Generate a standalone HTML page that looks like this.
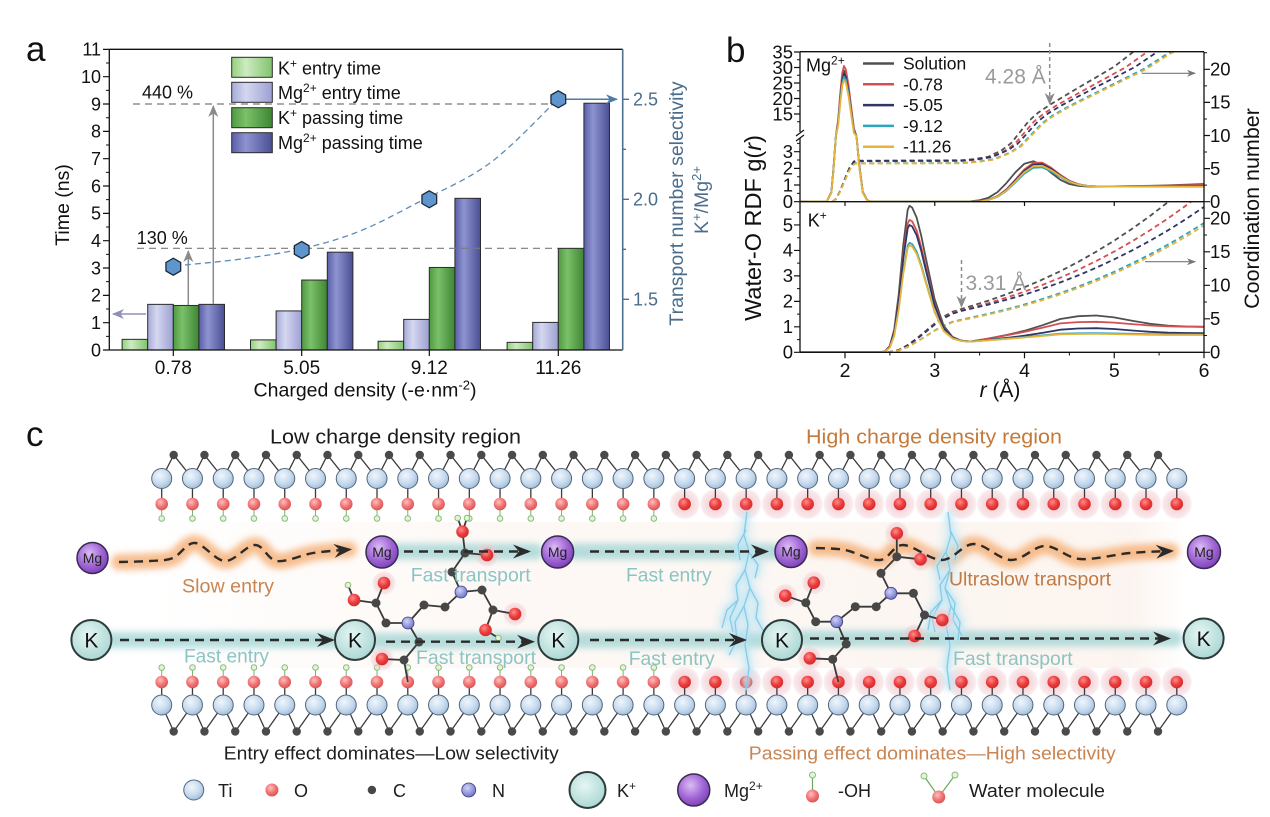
<!DOCTYPE html>
<html><head><meta charset="utf-8">
<style>
html,body{margin:0;padding:0;background:#fff}
svg{display:block;font-family:"Liberation Sans",Arial,sans-serif}
</style></head><body>
<svg xmlns="http://www.w3.org/2000/svg" width="1270" height="817" viewBox="0 0 1270 817">
<defs>
 <linearGradient id="gKE" x1="0" y1="0" x2="1" y2="0"><stop offset="0" stop-color="#93d07f"/><stop offset="0.35" stop-color="#cdebc0"/><stop offset="1" stop-color="#82c36d"/></linearGradient>
 <linearGradient id="gME" x1="0" y1="0" x2="1" y2="0"><stop offset="0" stop-color="#a6aad8"/><stop offset="0.35" stop-color="#d4d7ef"/><stop offset="1" stop-color="#9ca0d2"/></linearGradient>
 <linearGradient id="gKP" x1="0" y1="0" x2="1" y2="0"><stop offset="0" stop-color="#4e9b40"/><stop offset="0.35" stop-color="#7cc06a"/><stop offset="1" stop-color="#3e8633"/></linearGradient>
 <linearGradient id="gMP" x1="0" y1="0" x2="1" y2="0"><stop offset="0" stop-color="#5a5fa8"/><stop offset="0.35" stop-color="#8e93d0"/><stop offset="1" stop-color="#4a4f95"/></linearGradient>
 <radialGradient id="gTi" cx="0.4" cy="0.35" r="0.7"><stop offset="0" stop-color="#f0f6fc"/><stop offset="0.6" stop-color="#c6daee"/><stop offset="1" stop-color="#9dbad7"/></radialGradient>
 <radialGradient id="gO" cx="0.4" cy="0.35" r="0.7"><stop offset="0" stop-color="#ffc0c0"/><stop offset="0.55" stop-color="#f07474"/><stop offset="1" stop-color="#d85050"/></radialGradient>
 <radialGradient id="gO2" cx="0.4" cy="0.35" r="0.7"><stop offset="0" stop-color="#ff8c8c"/><stop offset="0.55" stop-color="#ec3c3c"/><stop offset="1" stop-color="#cc2a2a"/></radialGradient>
 <radialGradient id="gHalo" cx="0.5" cy="0.5" r="0.5"><stop offset="0" stop-color="#ea98a6" stop-opacity="0.5"/><stop offset="0.55" stop-color="#eeb8c0" stop-opacity="0.5"/><stop offset="0.88" stop-color="#f1cfd5" stop-opacity="0.45"/><stop offset="1" stop-color="#f3d8dc" stop-opacity="0.08"/></radialGradient>
 <radialGradient id="gK" cx="0.42" cy="0.38" r="0.7"><stop offset="0" stop-color="#e6f6f4"/><stop offset="1" stop-color="#a5d4d0"/></radialGradient>
 <radialGradient id="gMg" cx="0.4" cy="0.35" r="0.7"><stop offset="0" stop-color="#dcbcf4"/><stop offset="0.6" stop-color="#9e63d4"/><stop offset="1" stop-color="#7a3fb2"/></radialGradient>
 <radialGradient id="gN" cx="0.4" cy="0.35" r="0.7"><stop offset="0" stop-color="#d0d3f7"/><stop offset="1" stop-color="#6a70c6"/></radialGradient>
 <linearGradient id="gBg" x1="0" y1="0" x2="1" y2="0"><stop offset="0" stop-color="#fbf1ea" stop-opacity="0"/><stop offset="0.3" stop-color="#fbf1ea" stop-opacity="0.45"/><stop offset="0.95" stop-color="#fbf0e9" stop-opacity="0.7"/><stop offset="1" stop-color="#fbf0e9" stop-opacity="0"/></linearGradient>
 <filter id="blur3" filterUnits="userSpaceOnUse" x="0" y="0" width="1270" height="817"><feGaussianBlur stdDeviation="3.5"/></filter>
 <filter id="blur2" filterUnits="userSpaceOnUse" x="0" y="0" width="1270" height="817"><feGaussianBlur stdDeviation="2"/></filter>
 <filter id="blur5" filterUnits="userSpaceOnUse" x="0" y="0" width="1270" height="817"><feGaussianBlur stdDeviation="5"/></filter>
 <clipPath id="cpU"><rect x="800" y="51.7" width="404" height="150"/></clipPath>
 <clipPath id="cpL"><rect x="800" y="201.7" width="404" height="150.6"/></clipPath>
 <marker id="mG" markerUnits="userSpaceOnUse" markerWidth="12" markerHeight="10" refX="11" refY="5" orient="auto"><path d="M0,0 L12,5 L0,10 L3.5,5 Z" fill="#8a8a8a"/></marker>
 <marker id="mP" markerUnits="userSpaceOnUse" markerWidth="12" markerHeight="10" refX="11" refY="5" orient="auto"><path d="M0,0 L12,5 L0,10 L3.5,5 Z" fill="#8f8fb8"/></marker>
 <marker id="mB" markerUnits="userSpaceOnUse" markerWidth="12" markerHeight="10" refX="11" refY="5" orient="auto"><path d="M0,0 L12,5 L0,10 L3.5,5 Z" fill="#4e7ca8"/></marker>
 <marker id="mSm" markerUnits="userSpaceOnUse" markerWidth="9" markerHeight="7" refX="8" refY="3.5" orient="auto"><path d="M0,0 L9,3.5 L0,7 L2.5,3.5 Z" fill="#777"/></marker>
 <marker id="mA" markerUnits="userSpaceOnUse" markerWidth="18" markerHeight="14" refX="15" refY="7" orient="auto"><path d="M0,0 L18,7 L0,14 L6,7 Z" fill="#2b2b2b"/></marker>
 <polygon id="hex" points="0,-8.5 7.36,-4.25 7.36,4.25 0,8.5 -7.36,4.25 -7.36,-4.25" fill="#5d95cc" stroke="#1d2a3a" stroke-width="1.3"/>
 <g id="colTL">
  <polyline points="0,478.5 12,455 30.76,478.5" fill="none" stroke="#3a3a3a" stroke-width="1.3"/>
  <line x1="0" y1="478.5" x2="0" y2="504" stroke="#3a3a3a" stroke-width="1.3"/>
  <line x1="0" y1="504" x2="0" y2="518" stroke="#7ab06e" stroke-width="1"/>
  <circle cx="0" cy="518.5" r="2.8" fill="#e6f2dc" stroke="#86bf78" stroke-width="1"/>
  <circle cx="0" cy="504" r="6.3" fill="url(#gO)"/>
  <circle cx="0" cy="478.5" r="10" fill="url(#gTi)" stroke="#55657a" stroke-width="1"/>
  <circle cx="12" cy="455" r="4.2" fill="#4a4a4a"/>
 </g>
 <g id="colTH">
  <circle cx="0" cy="504" r="15.5" fill="url(#gHalo)"/>
  <polyline points="0,478.5 12,455 30.76,478.5" fill="none" stroke="#3a3a3a" stroke-width="1.3"/>
  <line x1="0" y1="478.5" x2="0" y2="504" stroke="#3a3a3a" stroke-width="1.3"/>
  <circle cx="0" cy="504" r="6.3" fill="url(#gO2)"/>
  <circle cx="0" cy="478.5" r="10" fill="url(#gTi)" stroke="#55657a" stroke-width="1"/>
  <circle cx="12" cy="455" r="4.2" fill="#4a4a4a"/>
 </g>
 <g id="colTHe">
  <circle cx="0" cy="504" r="15.5" fill="url(#gHalo)"/>
  <line x1="0" y1="478.5" x2="0" y2="504" stroke="#3a3a3a" stroke-width="1.3"/>
  <circle cx="0" cy="504" r="6.3" fill="url(#gO2)"/>
  <circle cx="0" cy="478.5" r="10" fill="url(#gTi)" stroke="#55657a" stroke-width="1"/>
 </g>
 <g id="colBL">
  <polyline points="0,705 12,731.5 30.76,705" fill="none" stroke="#3a3a3a" stroke-width="1.3"/>
  <line x1="0" y1="705" x2="0" y2="682" stroke="#3a3a3a" stroke-width="1.3"/>
  <line x1="0" y1="682" x2="0" y2="668" stroke="#7ab06e" stroke-width="1"/>
  <circle cx="0" cy="667.5" r="2.8" fill="#e6f2dc" stroke="#86bf78" stroke-width="1"/>
  <circle cx="0" cy="682" r="6.3" fill="url(#gO)"/>
  <circle cx="0" cy="705" r="10" fill="url(#gTi)" stroke="#55657a" stroke-width="1"/>
  <circle cx="12" cy="731.5" r="4.2" fill="#4a4a4a"/>
 </g>
 <g id="colBH">
  <circle cx="0" cy="682" r="15.5" fill="url(#gHalo)"/>
  <polyline points="0,705 12,731.5 30.76,705" fill="none" stroke="#3a3a3a" stroke-width="1.3"/>
  <line x1="0" y1="705" x2="0" y2="682" stroke="#3a3a3a" stroke-width="1.3"/>
  <circle cx="0" cy="682" r="6.3" fill="url(#gO2)"/>
  <circle cx="0" cy="705" r="10" fill="url(#gTi)" stroke="#55657a" stroke-width="1"/>
  <circle cx="12" cy="731.5" r="4.2" fill="#4a4a4a"/>
 </g>
 <g id="colBHe">
  <circle cx="0" cy="682" r="15.5" fill="url(#gHalo)"/>
  <line x1="0" y1="705" x2="0" y2="682" stroke="#3a3a3a" stroke-width="1.3"/>
  <circle cx="0" cy="682" r="6.3" fill="url(#gO2)"/>
  <circle cx="0" cy="705" r="10" fill="url(#gTi)" stroke="#55657a" stroke-width="1"/>
 </g>
 <g id="bolts">
  <polyline points="747,512 744,535 749,552 745,570 750,588 744,606 748,625 745,645 749,668 746,690"/>
  <polyline points="745,570 736,585 738,600 730,618 733,632"/><polyline points="750,588 758,603 756,618 764,632"/><polyline points="744,606 735,622 737,640 729,655"/>
  <polyline points="749,552 758,565 755,578"/><polyline points="746,530 738,545 740,560"/><polyline points="738,600 727,610 722,628"/>
  <polyline points="948,512 951,535 946,552 950,570 945,588 951,606 946,625 950,645 947,668 950,690"/>
  <polyline points="950,570 940,585 942,600 932,618 935,632"/><polyline points="945,588 955,603 953,620 962,636"/><polyline points="951,606 960,622 958,640"/>
  <polyline points="946,552 937,566 940,580"/><polyline points="950,530 958,546 955,560"/><polyline points="942,600 931,612 928,630"/>
 </g>
</defs>
<rect width="1270" height="817" fill="#fff"/>

<!-- ================= PANEL A ================= -->
<g stroke="#2b2b2b" stroke-width="1">
 <rect x="122.1" y="339.34" width="25.6" height="10.66" fill="url(#gKE)"/>
 <rect x="147.7" y="304.36" width="25.6" height="45.64" fill="url(#gME)"/>
 <rect x="173.3" y="305.45" width="25.6" height="44.55" fill="url(#gKP)"/>
 <rect x="198.9" y="304.36" width="25.6" height="45.64" fill="url(#gMP)"/>
 <rect x="250.5" y="339.89" width="25.6" height="10.11" fill="url(#gKE)"/>
 <rect x="276.1" y="310.92" width="25.6" height="39.08" fill="url(#gME)"/>
 <rect x="301.7" y="280.04" width="25.6" height="69.96" fill="url(#gKP)"/>
 <rect x="327.3" y="252.16" width="25.6" height="97.84" fill="url(#gMP)"/>
 <rect x="378.1" y="341.25" width="25.6" height="8.75" fill="url(#gKE)"/>
 <rect x="403.7" y="319.39" width="25.6" height="30.61" fill="url(#gME)"/>
 <rect x="429.3" y="267.46" width="25.6" height="82.54" fill="url(#gKP)"/>
 <rect x="454.9" y="198.32" width="25.6" height="151.68" fill="url(#gMP)"/>
 <rect x="507.1" y="342.35" width="25.6" height="7.65" fill="url(#gKE)"/>
 <rect x="532.7" y="322.4" width="25.6" height="27.6" fill="url(#gME)"/>
 <rect x="558.3" y="248.33" width="25.6" height="101.67" fill="url(#gKP)"/>
 <rect x="583.9" y="103.21" width="25.6" height="246.79" fill="url(#gMP)"/>
 <rect x="231.7" y="57.3" width="40.6" height="20" fill="url(#gKE)"/>
 <rect x="231.7" y="82.3" width="40.6" height="20" fill="url(#gME)"/>
 <rect x="231.7" y="107.7" width="40.6" height="20" fill="url(#gKP)"/>
 <rect x="231.7" y="132.7" width="40.6" height="20" fill="url(#gMP)"/>
</g>
<path d="M109.3,49.3H622.7M109.3,49.3V350M109.3,350H622.7" stroke="#111" stroke-width="1.3" fill="none"/>
<line x1="622.7" y1="49.3" x2="622.7" y2="350" stroke="#4d7090" stroke-width="1.6"/>
<path d="M103,350H109.3M103,322.67H109.3M103,295.34H109.3M103,268.01H109.3M103,240.68H109.3M103,213.35H109.3M103,186.02H109.3M103,158.69H109.3M103,131.36H109.3M103,104.03H109.3M103,76.7H109.3M103,49.37H109.3M173.3,350V356M301.7,350V356M429.3,350V356M558.3,350V356" stroke="#111" stroke-width="1.2" fill="none"/>
<path d="M106,336.33H109.3M106,309H109.3M106,281.67H109.3M106,254.34H109.3M106,227.01H109.3M106,199.68H109.3M106,172.35H109.3M106,145.02H109.3M106,117.69H109.3M106,90.36H109.3M106,63.03H109.3" stroke="#111" stroke-width="1" fill="none"/>
<path d="M622.7,99.3H629M622.7,199.3H629M622.7,299.3H629M622.7,149.3H626M622.7,249.3H626" stroke="#4d7090" stroke-width="1.3" fill="none"/>
<line x1="133" y1="104" x2="555" y2="104" stroke="#7a7a7a" stroke-width="1.2" stroke-dasharray="7,5"/>
<line x1="137" y1="248.3" x2="558" y2="248.3" stroke="#7a7a7a" stroke-width="1.2" stroke-dasharray="7,5"/>
<line x1="188.3" y1="305" x2="188.3" y2="251" stroke="#8a8a8a" stroke-width="1.5" marker-end="url(#mG)"/>
<line x1="213.3" y1="304" x2="213.3" y2="106" stroke="#8a8a8a" stroke-width="1.5" marker-end="url(#mG)"/>
<line x1="146" y1="314" x2="113" y2="314" stroke="#8f8fb8" stroke-width="1.5" marker-end="url(#mP)"/>
<line x1="566" y1="99.3" x2="617" y2="99.3" stroke="#4e7ca8" stroke-width="1.5" marker-end="url(#mB)"/>
<path d="M185,265 C195,263.92 225,261.33 245,258.5 C265,255.67 285.83,252.58 305,248 C324.17,243.42 341.33,238.5 360,231 C378.67,223.5 395.33,214.33 417,203 C438.67,191.67 466.5,180.33 490,163 C513.5,145.67 546.67,109.67 558,99" fill="none" stroke="#5b8cba" stroke-width="1.3" stroke-dasharray="6,4"/>
<use href="#hex" x="173.3" y="266.7"/>
<use href="#hex" x="301.7" y="250"/>
<use href="#hex" x="429.3" y="199.3"/>
<use href="#hex" x="558.3" y="99.3"/>

<!-- ================= PANEL B ================= -->
<g clip-path="url(#cpU)" fill="none">
 <g stroke-width="1.8" stroke-dasharray="5,3.5">
  <path stroke="#505050" d="M832.3,201.7 L835.9,199.1 L840.4,190.4 L844.9,178.8 L849.4,168 L853.9,161.4 L855.6,160.7 L961.6,160.3 L975,159 L988.5,156.7 L1001.9,150.1 L1010.9,143.4 L1019.9,132.2 L1028.9,120.9 L1037.8,113 L1049.5,105 L1064.8,95.8 L1078.2,87.8 L1096.2,77.3 L1114.1,66.7 L1133.9,51.4 L1168,28.2"/>
  <path stroke="#d45050" d="M832.3,201.7 L835.9,199.1 L840.4,190.6 L844.9,179.2 L849.4,168.5 L853.9,162 L855.6,161.3 L961.6,161 L976,159.7 L990.5,157.3 L1005,150.7 L1014.6,144.1 L1024.3,132.8 L1033.9,121.6 L1043.6,113.7 L1056.1,105.7 L1072.6,96.4 L1087,88.5 L1106.3,77.9 L1125.6,67.3 L1146.9,52.1 L1183.5,28.9"/>
  <path stroke="#2f3565" d="M832.3,201.7 L835.9,199.1 L840.4,190.5 L844.9,179 L849.4,168.3 L853.9,161.7 L855.6,161 L961.6,160.6 L976.8,159.3 L992.2,157 L1007.4,150.4 L1017.6,143.8 L1027.9,132.5 L1038,121.3 L1048.3,113.3 L1061.5,105.4 L1078.9,96.1 L1094.1,88.2 L1114.6,77.6 L1134.9,67 L1157.4,51.8 L1196.2,28.6"/>
  <path stroke="#2ea6bd" d="M832.3,201.7 L835.9,199.3 L840.4,191.1 L844.9,180.3 L849.4,170.2 L853.9,164 L855.6,163.3 L961.6,163 L977.6,161.6 L993.6,159.3 L1009.7,152.7 L1020.3,146.1 L1031,134.8 L1041.7,123.6 L1052.4,115.6 L1066.3,107.7 L1084.4,98.4 L1100.5,90.5 L1121.8,79.9 L1143.2,69.3 L1166.7,54.1 L1207.3,30.9"/>
  <path stroke="#e6b43a" d="M832.3,201.7 L835.9,199.3 L840.4,191.2 L844.9,180.5 L849.4,170.4 L853.9,164.3 L855.6,163.6 L961.6,163.3 L977.8,162 L994,159.7 L1010.2,153 L1021.1,146.4 L1031.8,135.2 L1042.7,123.9 L1053.5,116 L1067.5,108 L1085.9,98.8 L1102.1,90.8 L1123.7,80.2 L1145.4,69.6 L1169.1,54.4 L1210.2,31.2"/>
 </g>
 <g stroke-width="1.8" stroke-linejoin="round">
  <path stroke="#505050" d="M800,201.7 L826.9,201.4 L831.4,192.2 L833.6,167.4 L835.9,136 L838.1,121.8 L840.4,95.2 L842.2,77.4 L844,70.6 L845.8,73.7 L848.5,88.6 L851.2,109.7 L853.9,129.8 L856.5,136 L859.2,164.7 L862.8,192.1 L867.3,200.5 L871.8,201.7 L961.6,201.7 L970.5,201.3 L979.5,200.3 L988.5,197.7 L997.5,192.1 L1006.4,183.1 L1015.4,172.3 L1024.4,163.7 L1033.4,161.2 L1042.3,165.4 L1051.3,172.9 L1060.3,179.8 L1069.3,184 L1078.2,185.9 L1087.2,186.5 L1096.2,186.6 L1114.1,186.4 L1159,185.6 L1203.9,184"/>
  <path stroke="#d45050" d="M800,201.7 L826.9,201.4 L831.4,192 L833.6,166.8 L835.9,136 L838.1,119.9 L840.4,92 L842.2,73.1 L844,66 L845.8,69.4 L848.5,84.9 L851.2,106.9 L853.9,128.2 L856.5,136 L859.2,163.9 L862.8,191.8 L867.3,200.4 L871.8,201.7 L970.5,201.7 L979.5,201.1 L988.5,199.6 L997.5,196.2 L1006.4,189.4 L1015.4,179.6 L1024.4,169.4 L1033.4,162.8 L1042.3,162.6 L1051.3,167.8 L1060.3,174.8 L1069.3,180.7 L1078.2,184.2 L1087.2,185.8 L1096.2,186.3 L1114.1,186.4 L1159,185.8 L1203.9,185"/>
  <path stroke="#2f3565" d="M800,201.7 L826.9,201.4 L831.4,192.4 L833.6,168 L835.9,136 L838.1,123.3 L840.4,97.6 L842.2,80.5 L844,73.7 L845.8,76.8 L848.5,91.1 L851.2,111.5 L853.9,131 L856.5,136 L859.2,165.5 L862.8,192.4 L867.3,200.6 L871.8,201.7 L979.5,201.7 L988.5,199.7 L997.5,196.4 L1006.4,189.9 L1015.4,180.6 L1024.4,170.8 L1033.4,164.5 L1042.3,164.2 L1051.3,169 L1060.3,175.6 L1069.3,181.1 L1078.2,184.4 L1087.2,185.9 L1096.2,186.4 L1114.1,186.5 L1159,186.3 L1203.9,186"/>
  <path stroke="#2ea6bd" d="M800,201.7 L826.9,201.4 L831.4,192.6 L833.6,168.6 L835.9,136 L838.1,124.5 L840.4,99.7 L842.2,83.3 L844,76.8 L845.8,79.6 L848.5,93.5 L851.2,113.1 L853.9,132 L856.5,136 L859.2,166 L862.8,192.6 L867.3,200.7 L871.8,201.7 L979.5,201.7 L988.5,199.9 L997.5,196.9 L1006.4,191 L1015.4,182.5 L1024.4,173.6 L1033.4,167.8 L1042.3,167.4 L1051.3,171.5 L1060.3,177.1 L1069.3,181.9 L1078.2,184.7 L1087.2,186 L1096.2,186.4 L1114.1,186.5 L1159,186.5 L1203.9,186.5"/>
  <path stroke="#e6b43a" d="M800,201.7 L826.9,201.4 L831.4,192.8 L833.6,169.2 L835.9,136 L838.1,125.8 L840.4,102 L842.2,86.1 L844,79.9 L845.8,82.7 L848.5,96 L851.2,114.9 L853.9,133 L856.5,136 L859.2,166.6 L862.8,192.8 L867.3,200.8 L871.8,201.7 L979.5,201.7 L988.5,199.8 L997.5,196.6 L1006.4,190.5 L1015.4,181.6 L1024.4,172.2 L1033.4,166.1 L1042.3,165.8 L1051.3,170.3 L1060.3,176.3 L1069.3,181.5 L1078.2,184.6 L1087.2,185.9 L1096.2,186.4 L1114.1,186.6 L1159,186.7 L1203.9,186.8"/>
 </g>
</g>
<g clip-path="url(#cpL)" fill="none">
 <g stroke-width="1.8" stroke-dasharray="5,3.5">
  <path stroke="#505050" d="M888,352.3 L898.7,350 L907.7,345.1 L916.7,338.4 L925.7,330.9 L934.6,323.4 L943.6,316.6 L952.6,311.7 L961.6,309 L970.5,306.2 L988.5,300.6 L1006.4,294.3 L1024.4,287.3 L1042.3,279.6 L1060.3,271.2 L1078.2,261.9 L1096.2,251.7 L1114.1,240.7 L1132.1,228.8 L1150,216 L1168,202.1 L1185.9,187.5"/>
  <path stroke="#d45050" d="M888,352.3 L898.7,350 L907.7,345.3 L916.7,338.9 L925.7,331.6 L934.6,324.2 L943.6,317.7 L952.6,313 L961.6,310.3 L970.5,307.9 L988.5,303.1 L1006.4,297.6 L1024.4,291.7 L1042.3,285 L1060.3,277.7 L1078.2,269.8 L1096.2,261 L1114.1,251.6 L1132.1,241.3 L1150,230.3 L1168,218.4 L1185.9,205.6 L1203.9,191.8"/>
  <path stroke="#2f3565" d="M888,352.3 L898.7,350.1 L907.7,345.4 L916.7,339.1 L925.7,331.9 L934.6,324.7 L943.6,318.3 L952.6,313.6 L961.6,310.9 L970.5,308.8 L988.5,304.6 L1006.4,299.8 L1024.4,294.6 L1042.3,288.8 L1060.3,282.4 L1078.2,275.4 L1096.2,267.7 L1114.1,259.4 L1132.1,250.4 L1150,240.8 L1168,230.3 L1185.9,219.1 L1203.9,207"/>
  <path stroke="#2ea6bd" d="M888,352.3 L898.7,350.5 L907.7,346.9 L916.7,341.8 L925.7,336.2 L934.6,330.5 L943.6,325.4 L952.6,321.7 L961.6,319.6 L970.5,317.7 L988.5,313.7 L1006.4,309.4 L1024.4,304.5 L1042.3,299 L1060.3,293.1 L1078.2,286.6 L1096.2,279.5 L1114.1,271.8 L1132.1,263.4 L1150,254.3 L1168,244.6 L1185.9,234.2 L1203.9,223"/>
  <path stroke="#e6b43a" d="M888,352.3 L898.7,350.6 L907.7,347 L916.7,342.1 L925.7,336.5 L934.6,330.9 L943.6,325.9 L952.6,322.3 L961.6,320.2 L970.5,318.4 L988.5,314.5 L1006.4,310.3 L1024.4,305.6 L1042.3,300.2 L1060.3,294.4 L1078.2,288 L1096.2,281.1 L1114.1,273.5 L1132.1,265.3 L1150,256.3 L1168,246.8 L1185.9,236.6 L1203.9,225.6"/>
 </g>
 <g stroke-width="1.8" stroke-linejoin="round">
  <path stroke="#505050" d="M800,352.3 L880.8,352.3 L885.3,351 L889.8,345.9 L894.2,329.6 L898.7,294.5 L903.2,245.6 L907.7,209.7 L909.5,205.8 L912.2,207.6 L916.7,217.8 L921.2,235.6 L925.7,257.6 L934.6,299.1 L943.6,325.6 L952.6,337 L961.6,340.7 L970.5,341.5 L988.5,338.5 L1006.4,335 L1024.4,330.8 L1042.3,325.3 L1060.3,319 L1078.2,316.2 L1096.2,315.5 L1114.1,317.4 L1132.1,320.7 L1150,323.8 L1168,325.6 L1185.9,326.5 L1203.9,326.8"/>
  <path stroke="#d45050" d="M800,352.3 L880.8,352.3 L885.3,351.1 L889.8,346.5 L894.2,331.8 L898.7,300.1 L903.2,255.8 L907.7,223.4 L909.5,219.9 L912.2,221.4 L916.7,230.6 L921.2,246.9 L925.7,266.5 L934.6,303.9 L943.6,327.5 L952.6,337.6 L961.6,340.8 L970.5,341.5 L988.5,338.6 L1006.4,335.4 L1024.4,331.9 L1042.3,327.8 L1060.3,323.4 L1078.2,322.1 L1096.2,321.8 L1114.1,322.6 L1132.1,324.1 L1150,325.5 L1168,326.3 L1185.9,326.7 L1203.9,326.8"/>
  <path stroke="#2f3565" d="M800,352.3 L880.8,352.3 L885.3,351.2 L889.8,346.7 L894.2,332.6 L898.7,302 L903.2,259.5 L907.7,228.3 L909.5,225 L912.2,226.5 L916.7,235.4 L921.2,250.7 L925.7,269.5 L934.6,305.4 L943.6,328.1 L952.6,337.8 L961.6,340.8 L970.5,341.5 L988.5,339.8 L1006.4,337.9 L1024.4,335.7 L1042.3,332.9 L1060.3,329.7 L1078.2,328.5 L1096.2,328.2 L1114.1,329 L1132.1,330.5 L1150,331.8 L1168,332.7 L1185.9,333 L1203.9,333.1"/>
  <path stroke="#2ea6bd" d="M800,352.3 L880.8,352.3 L885.3,351.3 L889.8,347.5 L894.2,335.3 L898.7,309 L903.2,272.6 L907.7,245.6 L909.5,242.8 L912.2,244.1 L916.7,251.7 L921.2,264.9 L925.7,281 L934.6,311.5 L943.6,330.7 L952.6,338.5 L961.6,341 L970.5,341.6 L988.5,340.2 L1006.4,338.7 L1024.4,337.1 L1042.3,335.4 L1060.3,333.6 L1078.2,333.3 L1096.2,333.2 L1114.1,333.4 L1132.1,333.8 L1150,334.1 L1168,334.3 L1185.9,334.4 L1203.9,334.5"/>
  <path stroke="#e6b43a" d="M800,352.3 L880.8,352.3 L885.3,351.3 L889.8,347.6 L894.2,335.7 L898.7,310 L903.2,274.4 L907.7,248.1 L909.5,245.3 L912.2,246.6 L916.7,254 L921.2,267 L925.7,282.5 L934.6,312.3 L943.6,331 L952.6,338.6 L961.6,341 L970.5,341.6 L988.5,340.3 L1006.4,339 L1024.4,337.5 L1042.3,336 L1060.3,334.3 L1078.2,334 L1096.2,333.9 L1114.1,334.1 L1132.1,334.5 L1150,334.8 L1168,335 L1185.9,335 L1203.9,335"/>
 </g>
</g>
<g stroke-width="2.5">
 <line x1="863" y1="63.5" x2="894" y2="63.5" stroke="#505050"/>
 <line x1="863" y1="84.3" x2="894" y2="84.3" stroke="#d45050"/>
 <line x1="863" y1="105.1" x2="894" y2="105.1" stroke="#2f3565"/>
 <line x1="863" y1="125.9" x2="894" y2="125.9" stroke="#2ea6bd"/>
 <line x1="863" y1="146.7" x2="894" y2="146.7" stroke="#e6b43a"/>
</g>
<path d="M800,51.7H1204M800,201.7H1204M800,352.3H1204M800,51.7V352.3M1204,51.7V352.3" stroke="#111" stroke-width="1.3" fill="none"/>
<rect x="796" y="132" width="8" height="6" fill="#fff"/>
<path d="M796,136L804,130M796,141L804,135" stroke="#111" stroke-width="1.2"/>
<path d="M794,201.7H800M794,185.03H800M794,168.36H800M794,151.69H800M794,114H800M794,98.5H800M794,83H800M794,67.5H800M794,52H800M794,352.3H800M794,326.83H800M794,301.36H800M794,275.89H800M794,250.42H800M794,224.95H800M1204,201.7H1210M1204,168.6H1210M1204,135.5H1210M1204,102.4H1210M1204,69.3H1210M1204,352.3H1210M1204,318.8H1210M1204,285.3H1210M1204,251.8H1210M1204,218.3H1210M845,352.3V358.3M934.75,352.3V358.3M1024.5,352.3V358.3M1114.25,352.3V358.3M1204,352.3V358.3M845,201.7V206M934.75,201.7V206M1024.5,201.7V206M1114.25,201.7V206" stroke="#111" stroke-width="1.2" fill="none"/>
<path d="M797,193.37H800M797,176.7H800M797,160.03H800M797,143.36H800M797,121.75H800M797,106.25H800M797,90.75H800M797,75.25H800M797,59.75H800M797,339.57H800M797,314.1H800M797,288.63H800M797,263.16H800M797,237.69H800M797,212.22H800M1204,185.15H1207M1204,152.05H1207M1204,118.95H1207M1204,85.85H1207M1204,52.75H1207M1204,335.55H1207M1204,302.05H1207M1204,268.55H1207M1204,235.05H1207M889.9,352.3V355.5M979.6,352.3V355.5M1069.4,352.3V355.5M1159.1,352.3V355.5" stroke="#111" stroke-width="1" fill="none"/>
<line x1="1049.7" y1="43" x2="1049.7" y2="104" stroke="#8c8c8c" stroke-width="1.5" stroke-dasharray="4,3" marker-end="url(#mG)"/>
<line x1="961.5" y1="260" x2="961.5" y2="307" stroke="#8c8c8c" stroke-width="1.5" stroke-dasharray="4,3" marker-end="url(#mG)"/>
<line x1="1141.8" y1="73.3" x2="1195" y2="73.3" stroke="#777" stroke-width="1.2" marker-end="url(#mSm)"/>
<line x1="1145" y1="261.7" x2="1195" y2="261.7" stroke="#777" stroke-width="1.2" marker-end="url(#mSm)"/>

<!-- ================= PANEL C ================= -->
<rect x="150" y="522" width="1035" height="146" fill="url(#gBg)"/>
<g filter="url(#blur3)" fill="none" stroke-linecap="round">
 <g stroke="#98d0d0" stroke-width="16" opacity="0.7">
  <line x1="395" y1="551.5" x2="535" y2="551.5"/>
  <line x1="575" y1="551.5" x2="775" y2="551.5"/>
  <line x1="108" y1="640" x2="335" y2="640"/>
  <line x1="376" y1="641" x2="535" y2="641"/>
  <line x1="578" y1="640" x2="770" y2="640"/>
  <line x1="803" y1="638.5" x2="1175" y2="638.5"/>
 </g>
 <g stroke="#f6ae74" stroke-width="16" opacity="0.8">
  <path d="M119,562 C124.17,561.83 141,561.67 150,561 C159,560.33 165.5,561 173,558 C180.5,555 186.33,542.5 195,543 C203.67,543.5 215,560.67 225,561 C235,561.33 246.33,545 255,545 C263.67,545 267.33,559.67 277,561 C286.67,562.33 301,554.92 313,553 C325,551.08 343,550.08 349,549.5"/>
  <path d="M816,548 C820.83,548.33 834.33,548 845,550 C855.67,552 870.33,560.83 880,560 C889.67,559.17 892.67,545 903,545 C913.33,545 930.17,560.17 942,560 C953.83,559.83 962.5,544 974,544 C985.5,544 999.17,559.67 1011,560 C1022.83,560.33 1033.5,546.17 1045,546 C1056.5,545.83 1065.83,557.83 1080,559 C1094.17,560.17 1114.83,554.33 1130,553 C1145.17,551.67 1164.17,551.33 1171,551"/>
 </g>
</g>
<g transform="translate(161.7,0)">
 <use href="#colTL" x="0"/><use href="#colTL" x="30.76"/><use href="#colTL" x="61.52"/><use href="#colTL" x="92.28"/><use href="#colTL" x="123.04"/><use href="#colTL" x="153.8"/><use href="#colTL" x="184.56"/><use href="#colTL" x="215.32"/><use href="#colTL" x="246.08"/><use href="#colTL" x="276.84"/><use href="#colTL" x="307.6"/><use href="#colTL" x="338.36"/><use href="#colTL" x="369.12"/><use href="#colTL" x="399.88"/><use href="#colTL" x="430.64"/><use href="#colTL" x="461.4"/><use href="#colTL" x="492.16"/>
 <use href="#colTH" x="522.92"/><use href="#colTH" x="553.68"/><use href="#colTH" x="584.44"/><use href="#colTH" x="615.2"/><use href="#colTH" x="645.96"/><use href="#colTH" x="676.72"/><use href="#colTH" x="707.48"/><use href="#colTH" x="738.24"/><use href="#colTH" x="769"/><use href="#colTH" x="799.76"/><use href="#colTH" x="830.52"/><use href="#colTH" x="861.28"/><use href="#colTH" x="892.04"/><use href="#colTH" x="922.8"/><use href="#colTH" x="953.56"/><use href="#colTH" x="984.32"/><use href="#colTHe" x="1015.08"/>
 <use href="#colBL" x="0"/><use href="#colBL" x="30.76"/><use href="#colBL" x="61.52"/><use href="#colBL" x="92.28"/><use href="#colBL" x="123.04"/><use href="#colBL" x="153.8"/><use href="#colBL" x="184.56"/><use href="#colBL" x="215.32"/><use href="#colBL" x="246.08"/><use href="#colBL" x="276.84"/><use href="#colBL" x="307.6"/><use href="#colBL" x="338.36"/><use href="#colBL" x="369.12"/><use href="#colBL" x="399.88"/><use href="#colBL" x="430.64"/><use href="#colBL" x="461.4"/><use href="#colBL" x="492.16"/>
 <use href="#colBH" x="522.92"/><use href="#colBH" x="553.68"/><use href="#colBH" x="584.44"/><use href="#colBH" x="615.2"/><use href="#colBH" x="645.96"/><use href="#colBH" x="676.72"/><use href="#colBH" x="707.48"/><use href="#colBH" x="738.24"/><use href="#colBH" x="769"/><use href="#colBH" x="799.76"/><use href="#colBH" x="830.52"/><use href="#colBH" x="861.28"/><use href="#colBH" x="892.04"/><use href="#colBH" x="922.8"/><use href="#colBH" x="953.56"/><use href="#colBH" x="984.32"/><use href="#colBHe" x="1015.08"/>
</g>
<!-- lightning -->
<g fill="none">
 <use href="#bolts" filter="url(#blur5)" stroke="#b6e2f2" stroke-width="12" opacity="0.45"/>
 <use href="#bolts" filter="url(#blur2)" stroke="#bfe6f5" stroke-width="5" opacity="0.8"/>
 <use href="#bolts" stroke="#86cbe6" stroke-width="1.3"/>
</g>
<!-- molecule left -->
<g>
 <g fill="url(#gHalo)"><circle cx="487" cy="555" r="12"/><circle cx="384" cy="583" r="12"/><circle cx="515" cy="614" r="12"/><circle cx="382" cy="659" r="12"/></g>
 <path d="M462.5,531.7L465,553M465,553L487,555M465,553L452,572M452,572L461,592M461,592L482,590M482,590L493,610M493,610L515,614M493,610L485.5,630M461,592L445,607M445,607L424,605M424,605L408,623M408,623L386,623M386,623L376,603M376,603L384,583M376,603L354,600M408,623L419,642M419,642L404,660M404,660L382,659M404,660L407.8,682M462.5,531.7L457.7,518M462.5,531.7L467,518M354,600L348,585M485.5,630L498.4,638" stroke="#3a3a3a" stroke-width="1.8" fill="none"/>
 <g fill="#e6f2dc" stroke="#86bf78" stroke-width="1"><circle cx="457.7" cy="518" r="2.8"/><circle cx="467" cy="518" r="2.8"/><circle cx="348" cy="585" r="2.8"/><circle cx="498.4" cy="638" r="2.8"/></g>
 <g fill="url(#gO2)"><circle cx="487" cy="555" r="6.3"/><circle cx="384" cy="583" r="6.3"/><circle cx="515" cy="614" r="6.3"/><circle cx="382" cy="659" r="6.3"/><circle cx="462.5" cy="531.7" r="6.3"/><circle cx="354" cy="600" r="6.3"/><circle cx="485.5" cy="630" r="6.3"/></g>
 <g fill="#474747"><circle cx="465" cy="553" r="4.5"/><circle cx="452" cy="572" r="4.5"/><circle cx="482" cy="590" r="4.5"/><circle cx="493" cy="610" r="4.5"/><circle cx="445" cy="607" r="4.5"/><circle cx="424" cy="605" r="4.5"/><circle cx="386" cy="623" r="4.5"/><circle cx="376" cy="603" r="4.5"/><circle cx="419" cy="642" r="4.5"/><circle cx="404" cy="660" r="4.5"/></g>
 <g fill="url(#gN)" stroke="#3c3f80" stroke-width="0.8"><circle cx="461" cy="592" r="6"/><circle cx="408" cy="623" r="6"/></g>
</g>
<!-- molecule right -->
<g>
 <g fill="url(#gHalo)"><circle cx="896.8" cy="533.3" r="12"/><circle cx="920.5" cy="559.3" r="12"/><circle cx="942.3" cy="620" r="12"/><circle cx="914.6" cy="636" r="12"/><circle cx="813.8" cy="582.7" r="12"/><circle cx="785.3" cy="595.7" r="12"/><circle cx="809.8" cy="658.3" r="12"/></g>
 <path d="M896.8,533.3L896.8,556.7M896.8,556.7L920.5,559.3M896.8,556.7L881,573.3M881,573.3L890.9,593.3M890.9,593.3L913.4,593.3M913.4,593.3L924.5,615M924.5,615L942.3,620M924.5,615L914.6,636M890.9,593.3L876.2,606.7M876.2,606.7L855.3,606.7M855.3,606.7L836.7,621.7M836.7,621.7L815.7,621.7M815.7,621.7L805.8,602.7M805.8,602.7L813.8,582.7M805.8,602.7L785.3,595.7M836.7,621.7L846.2,644M846.2,644L832.7,659.3M832.7,659.3L809.8,658.3M832.7,659.3L838.4,682" stroke="#3a3a3a" stroke-width="1.8" fill="none"/>
 <g fill="url(#gO2)"><circle cx="896.8" cy="533.3" r="6.3"/><circle cx="920.5" cy="559.3" r="6.3"/><circle cx="942.3" cy="620" r="6.3"/><circle cx="914.6" cy="636" r="6.3"/><circle cx="813.8" cy="582.7" r="6.3"/><circle cx="785.3" cy="595.7" r="6.3"/><circle cx="809.8" cy="658.3" r="6.3"/></g>
 <g fill="#474747"><circle cx="896.8" cy="556.7" r="4.5"/><circle cx="881" cy="573.3" r="4.5"/><circle cx="913.4" cy="593.3" r="4.5"/><circle cx="924.5" cy="615" r="4.5"/><circle cx="876.2" cy="606.7" r="4.5"/><circle cx="855.3" cy="606.7" r="4.5"/><circle cx="815.7" cy="621.7" r="4.5"/><circle cx="805.8" cy="602.7" r="4.5"/><circle cx="846.2" cy="644" r="4.5"/><circle cx="832.7" cy="659.3" r="4.5"/></g>
 <g fill="url(#gN)" stroke="#3c3f80" stroke-width="0.8"><circle cx="890.9" cy="593.3" r="6"/><circle cx="836.7" cy="621.7" r="6"/></g>
</g>
<!-- dashed arrows -->
<g fill="none" stroke="#2b2b2b" stroke-width="2.4" stroke-dasharray="9,6">
 <path marker-end="url(#mA)" d="M119,562 C124.17,561.83 141,561.67 150,561 C159,560.33 165.5,561 173,558 C180.5,555 186.33,542.5 195,543 C203.67,543.5 215,560.67 225,561 C235,561.33 246.33,545 255,545 C263.67,545 267.33,559.67 277,561 C286.67,562.33 301,554.92 313,553 C325,551.08 343,550.08 349,549.5"/>
 <path marker-end="url(#mA)" d="M816,548 C820.83,548.33 834.33,548 845,550 C855.67,552 870.33,560.83 880,560 C889.67,559.17 892.67,545 903,545 C913.33,545 930.17,560.17 942,560 C953.83,559.83 962.5,544 974,544 C985.5,544 999.17,559.67 1011,560 C1022.83,560.33 1033.5,546.17 1045,546 C1056.5,545.83 1065.83,557.83 1080,559 C1094.17,560.17 1114.83,554.33 1130,553 C1145.17,551.67 1164.17,551.33 1171,551"/>
 <path marker-end="url(#mA)" d="M404,551.5 L528,551.5"/>
 <path marker-end="url(#mA)" d="M590,551.5 L766,551.5"/>
 <path marker-end="url(#mA)" d="M120,640 L332,640"/>
 <path marker-end="url(#mA)" d="M386,641.7 L532,641.7"/>
 <path marker-end="url(#mA)" d="M590,640 L744,640"/>
 <path marker-end="url(#mA)" d="M810,638.5 L1168,638.5"/>
</g>
<!-- ions -->
<g fill="url(#gMg)" stroke="#3a2a55" stroke-width="1.5">
 <circle cx="92.5" cy="558" r="15.5"/><circle cx="382" cy="552" r="16"/><circle cx="557.6" cy="552" r="16"/><circle cx="791" cy="551.5" r="16"/><circle cx="1204" cy="552" r="16.5"/>
 <circle cx="693.75" cy="790" r="16"/>
</g>
<g fill="url(#gK)" stroke="#2d3b3b" stroke-width="2">
 <circle cx="91.4" cy="640" r="20"/><circle cx="355" cy="640" r="20"/><circle cx="558.3" cy="640" r="20"/><circle cx="782" cy="640" r="20"/><circle cx="1203.6" cy="638.5" r="20"/>
 <circle cx="587.5" cy="790" r="18"/>
</g>
<circle cx="193.75" cy="790" r="10" fill="url(#gTi)" stroke="#55657a" stroke-width="1"/>
<circle cx="271.9" cy="790" r="6.5" fill="url(#gO)"/>
<circle cx="371.9" cy="790" r="4.2" fill="#474747"/>
<circle cx="468.75" cy="790" r="7" fill="url(#gN)" stroke="#3c3f80" stroke-width="0.8"/>
<line x1="812.5" y1="796" x2="812.5" y2="775" stroke="#6aa860" stroke-width="1.2"/>
<circle cx="812.5" cy="775" r="3" fill="#e6f2dc" stroke="#86bf78" stroke-width="1"/>
<circle cx="812.5" cy="796" r="6.5" fill="url(#gO)"/>
<line x1="938.75" y1="797" x2="924" y2="776" stroke="#6aa860" stroke-width="1.2"/>
<line x1="938.75" y1="797" x2="955" y2="775" stroke="#6aa860" stroke-width="1.2"/>
<circle cx="924" cy="776" r="3" fill="#e6f2dc" stroke="#86bf78" stroke-width="1"/>
<circle cx="955" cy="775" r="3" fill="#e6f2dc" stroke="#86bf78" stroke-width="1"/>
<circle cx="938.75" cy="797" r="6.5" fill="url(#gO)"/>

<!-- ================= TEXT ================= -->
<g fill="#111">
 <text x="26" y="61" font-size="35">a</text>
 <text x="726" y="62" font-size="35">b</text>
 <text x="26" y="446" font-size="35">c</text>

 <g font-size="18" text-anchor="end">
  <text x="101" y="356.3">0</text><text x="101" y="329">1</text><text x="101" y="301.6">2</text>
  <text x="101" y="274.3">3</text><text x="101" y="247">4</text><text x="101" y="219.6">5</text>
  <text x="101" y="192.3">6</text><text x="101" y="165">7</text><text x="101" y="137.7">8</text>
  <text x="101" y="110.3">9</text><text x="101" y="83">10</text><text x="101" y="55.7">11</text>
 </g>
 <g font-size="18" fill="#4a6d8c">
  <text x="633" y="105.6">2.5</text><text x="633" y="205.6">2.0</text><text x="633" y="305.6">1.5</text>
 </g>
 <g font-size="19" text-anchor="middle">
  <text x="173.3" y="374">0.78</text><text x="301.7" y="374">5.05</text>
  <text x="429.3" y="374">9.12</text><text x="558.3" y="374">11.26</text>
 </g>
 <text x="365" y="396.7" font-size="19.5" text-anchor="middle">Charged density (-e·nm<tspan dy="-7" font-size="13">-2</tspan><tspan dy="7">)</tspan></text>
 <text transform="translate(69,205) rotate(-90)" text-anchor="middle" font-size="19.5">Time (ns)</text>
 <text transform="translate(683,203.5) rotate(-90)" text-anchor="middle" font-size="19.5" fill="#4a6d8c">Transport number selectivity</text>
 <text transform="translate(708,200) rotate(-90)" text-anchor="middle" font-size="19.5" fill="#4a6d8c">K<tspan dy="-7" font-size="13">+</tspan><tspan dy="7">/Mg</tspan><tspan dy="-7" font-size="13">2+</tspan></text>
 <g font-size="18">
  <text x="278" y="74.3">K<tspan dy="-7" font-size="12">+</tspan><tspan dy="7"> entry time</tspan></text>
  <text x="278" y="99">Mg<tspan dy="-7" font-size="12">2+</tspan><tspan dy="7"> entry time</tspan></text>
  <text x="278" y="124">K<tspan dy="-7" font-size="12">+</tspan><tspan dy="7"> passing time</tspan></text>
  <text x="278" y="149">Mg<tspan dy="-7" font-size="12">2+</tspan><tspan dy="7"> passing time</tspan></text>
 </g>
 <text x="142" y="98.3" font-size="18">440 %</text>
 <text x="136.7" y="244" font-size="18">130 %</text>

 <g font-size="18.5" text-anchor="end">
  <text x="793" y="208">0</text><text x="793" y="191.3">1</text><text x="793" y="174.6">2</text><text x="793" y="158">3</text>
  <text x="793" y="120.3">15</text><text x="793" y="104.8">20</text><text x="793" y="89.3">25</text><text x="793" y="73.8">30</text><text x="793" y="58.3">35</text>
  <text x="793" y="358.6">0</text><text x="793" y="333.1">1</text><text x="793" y="307.7">2</text><text x="793" y="282.2">3</text><text x="793" y="256.7">4</text><text x="793" y="231.3">5</text>
 </g>
 <g font-size="18.5">
  <text x="1210" y="208">0</text><text x="1210" y="174.9">5</text><text x="1210" y="141.8">10</text><text x="1210" y="108.7">15</text><text x="1210" y="75.6">20</text>
  <text x="1210" y="358.6">0</text><text x="1210" y="325.1">5</text><text x="1210" y="291.6">10</text><text x="1210" y="258.1">15</text><text x="1210" y="224.6">20</text>
 </g>
 <g font-size="19.5" text-anchor="middle">
  <text x="845" y="377">2</text><text x="934.75" y="377">3</text><text x="1024.5" y="377">4</text><text x="1114.25" y="377">5</text><text x="1204" y="377">6</text>
 </g>
 <text x="1000" y="397" font-size="21" text-anchor="middle"><tspan font-style="italic">r</tspan> (Å)</text>
 <text transform="translate(761,228) rotate(-90)" text-anchor="middle" font-size="23.5">Water-O RDF g(<tspan font-style="italic">r</tspan>)</text>
 <text transform="translate(1259,208.5) rotate(-90)" text-anchor="middle" font-size="21.5">Coordination number</text>
 <text x="806" y="71.7" font-size="18">Mg<tspan dy="-7" font-size="12">2+</tspan></text>
 <text x="807.7" y="226.7" font-size="18">K<tspan dy="-7" font-size="12">+</tspan></text>
 <g font-size="17.5">
  <text x="903" y="69.5">Solution</text><text x="903" y="90.3">-0.78</text><text x="903" y="111.1">-5.05</text><text x="903" y="131.9">-9.12</text><text x="903" y="152.7">-11.26</text>
 </g>
 <text x="985" y="83.3" font-size="21" fill="#9a9a9a">4.28 Å</text>
 <text x="965.5" y="290" font-size="21" fill="#9a9a9a">3.31 Å</text>

 <text x="270" y="443.3" font-size="20" textLength="251" lengthAdjust="spacingAndGlyphs" fill="#1a1a1a">Low charge density region</text>
 <text x="806" y="443.3" font-size="20" textLength="256" lengthAdjust="spacingAndGlyphs" fill="#c47a3a">High charge density region</text>
 <text x="182" y="592.7" font-size="19.5" textLength="92" lengthAdjust="spacingAndGlyphs" fill="#c98452">Slow entry</text>
 <g font-size="19.5" fill="#8cc4c4">
  <text x="410.7" y="581.7" textLength="120" lengthAdjust="spacingAndGlyphs">Fast transport</text>
  <text x="184" y="662.7" textLength="85" lengthAdjust="spacingAndGlyphs">Fast entry</text>
  <text x="416" y="664" textLength="120" lengthAdjust="spacingAndGlyphs">Fast transport</text>
  <text x="626" y="581.7" textLength="85.7" lengthAdjust="spacingAndGlyphs">Fast entry</text>
  <text x="628.7" y="665" textLength="86" lengthAdjust="spacingAndGlyphs">Fast entry</text>
  <text x="953" y="665" textLength="119.7" lengthAdjust="spacingAndGlyphs">Fast transport</text>
 </g>
 <text x="949" y="585.7" font-size="19.5" textLength="162" lengthAdjust="spacingAndGlyphs" fill="#c07a45">Ultraslow transport</text>
 <text x="223.75" y="759.3" font-size="18.5" textLength="335" lengthAdjust="spacingAndGlyphs" fill="#1e1e1e">Entry effect dominates—Low selectivity</text>
 <text x="748.75" y="759.3" font-size="18.5" textLength="367" lengthAdjust="spacingAndGlyphs" fill="#c98452">Passing effect dominates—High selectivity</text>
 <g font-size="14" text-anchor="middle" fill="#222">
  <text x="92.5" y="563">Mg</text><text x="382" y="557">Mg</text><text x="557.6" y="557">Mg</text><text x="791" y="556.5">Mg</text><text x="1204" y="557">Mg</text>
 </g>
 <g font-size="21" text-anchor="middle" fill="#111">
  <text x="91.4" y="647.5">K</text><text x="355" y="647.5">K</text><text x="558.3" y="647.5">K</text><text x="782" y="647.5">K</text><text x="1203.6" y="646">K</text>
 </g>
 <g font-size="18" fill="#1e1e1e">
  <text x="218" y="797">Ti</text>
  <text x="294" y="797">O</text>
  <text x="393" y="797">C</text>
  <text x="492" y="797">N</text>
  <text x="617" y="797">K<tspan dy="-7" font-size="12">+</tspan></text>
  <text x="724" y="797">Mg<tspan dy="-7" font-size="12">2+</tspan></text>
  <text x="838" y="797">-OH</text>
  <text x="969" y="797" textLength="136" lengthAdjust="spacingAndGlyphs">Water molecule</text>
 </g>
</g>
</svg>
</body></html>
